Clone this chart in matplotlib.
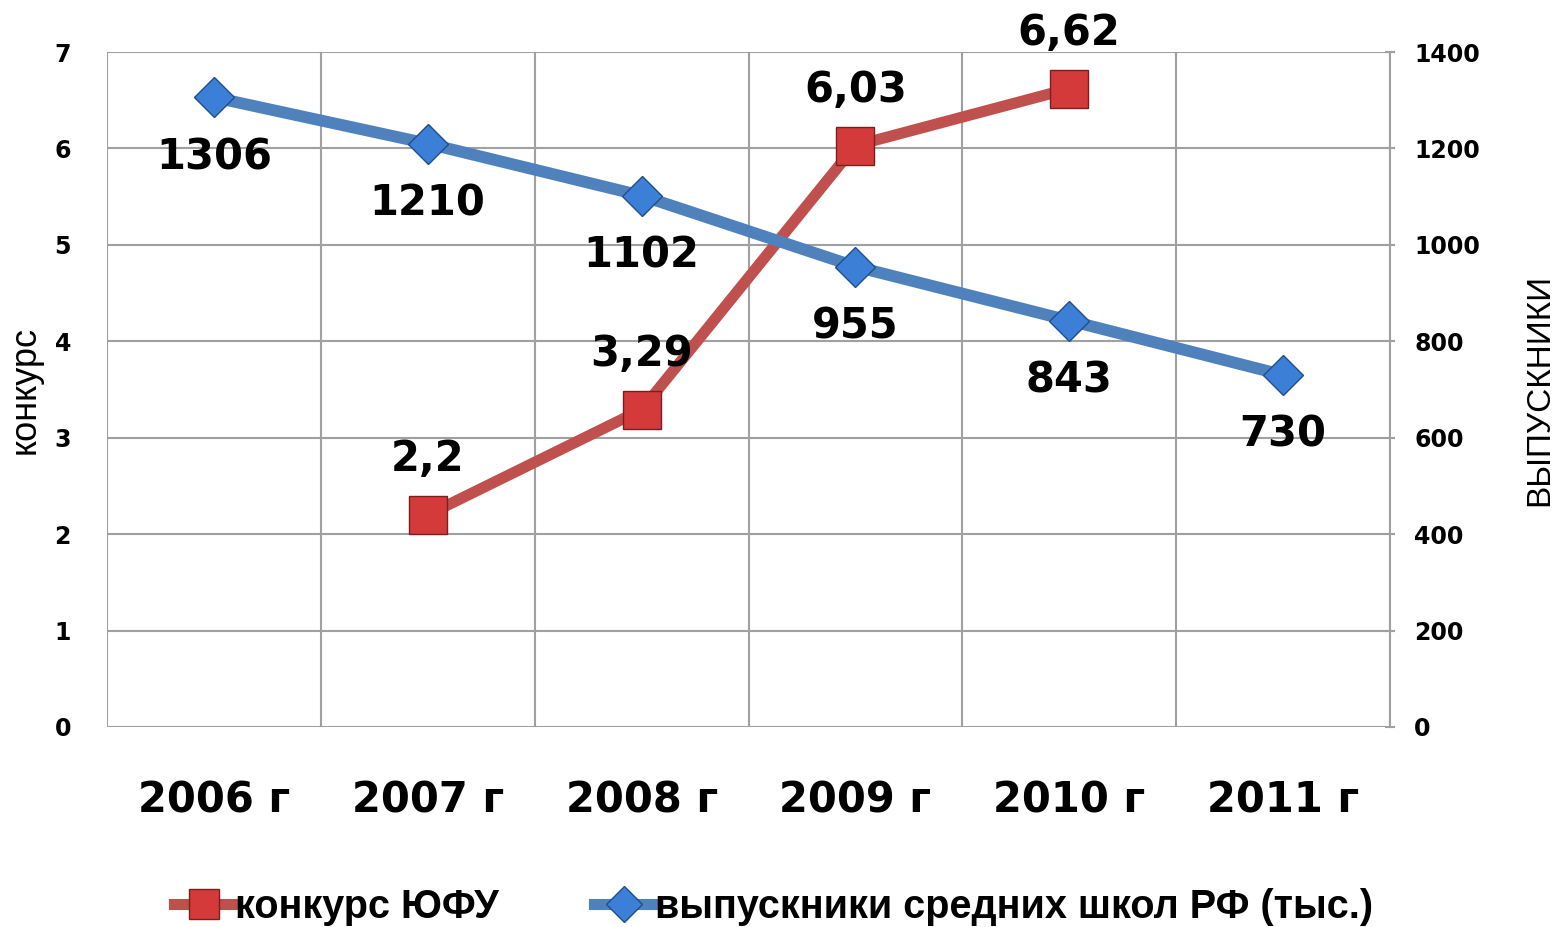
import matplotlib.pyplot as plt
from matplotlib.lines import Line2D
from matplotlib import font_manager

# data
years = ['2006 г', '2007 г', '2008 г', '2009 г', '2010 г', '2011 г']
konkurs_idx = [1, 2, 3, 4]
konkurs = [2.2, 3.29, 6.03, 6.62]
konkurs_labels = ['2,2', '3,29', '6,03', '6,62']
grads = [1306, 1210, 1102, 955, 843, 730]

red = '#C0504D'
red_mk = '#D43A3A'
blue = '#4F81BD'
blue_mk = '#3C7FD6'
grid_c = '#A0A0A0'

names = {f.name for f in font_manager.fontManager.ttflist}
narrow = 'Liberation Sans Narrow' if 'Liberation Sans Narrow' in names else 'Liberation Sans'

fig = plt.figure(figsize=(15.6, 9.27), dpi=100)
ax = fig.add_axes([107 / 1560, 1 - 727 / 927, (1390 - 107) / 1560, (727 - 52) / 927])
ax2 = ax.twinx()

x = list(range(len(years)))
ax.set_xlim(-0.5, len(years) - 0.5)
ax.set_ylim(0, 7)
ax2.set_ylim(0, 1400)

# grid
for v in range(0, 8):
    ax.axhline(v, color=grid_c, lw=1.5, zorder=0)
for i in range(len(years) + 1):
    ax.axvline(i - 0.5, color=grid_c, lw=1.5, zorder=0)

for a in (ax, ax2):
    for s in a.spines.values():
        s.set_visible(False)
ax2.spines['right'].set_visible(True)
ax2.spines['right'].set_color(grid_c)
ax2.spines['right'].set_linewidth(1.5)

ax.plot(konkurs_idx, konkurs, color=red, lw=8, marker='s', ms=28,
        mfc=red_mk, mec='#7A1E1E', mew=1, solid_capstyle='butt', zorder=3)
ax2.plot(x, grads, color=blue, lw=8.5, marker='D', ms=20,
         mfc=blue_mk, mec='#1F4E8C', mew=1, solid_capstyle='butt', zorder=3)

for i, v, t in zip(konkurs_idx, konkurs, konkurs_labels):
    ax.annotate(t, (i, v), xytext=(0, 40), textcoords='offset points',
                ha='center', va='center', fontsize=30, fontweight='bold',
                annotation_clip=False, zorder=5)
for i, v in zip(x, grads):
    ax2.annotate(str(v), (i, v), xytext=(0, -43), textcoords='offset points',
                 ha='center', va='center', fontsize=30, fontweight='bold',
                 annotation_clip=False, zorder=5)

ax.set_xticks(x)
ax.set_xticklabels(years, fontsize=30, fontweight='bold')
ax.tick_params(axis='x', length=0, pad=38)
ax.set_yticks(range(0, 8))
ax.set_yticklabels([str(v) for v in range(0, 8)], fontsize=17, fontweight='bold')
ax.tick_params(axis='y', length=0, pad=26)
ax2.set_yticks(range(0, 1401, 200))
ax2.set_yticklabels([str(v) for v in range(0, 1401, 200)], fontsize=17, fontweight='bold')
ax2.tick_params(axis='y', length=7, width=1.5, color=grid_c, pad=14, direction='inout')

ax.set_ylabel('конкурс', family=narrow, fontsize=26, va='center')
ax.yaxis.set_label_coords(-0.064, 0.5)
ax2.set_ylabel('ВЫПУСКНИКИ', family=narrow, fontsize=24, va='center')
ax2.yaxis.set_label_coords(1.117, 0.5)

handles = [
    Line2D([], [], color=red, lw=8, marker='s', ms=22, mfc=red_mk, mec='#7A1E1E'),
    Line2D([], [], color=blue, lw=8, marker='D', ms=18, mfc=blue_mk, mec='#1F4E8C'),
]
fig.legend(handles, ['конкурс ЮФУ', 'выпускники средних школ РФ (тыс.)'],
           loc='center', bbox_to_anchor=(0.496, 0.022), ncol=2, frameon=False,
           prop={'family': narrow, 'weight': 'bold', 'size': 28.5},
           handlelength=1.5, handletextpad=0.05, columnspacing=2.4)

fig.savefig('out.png', dpi=100)
